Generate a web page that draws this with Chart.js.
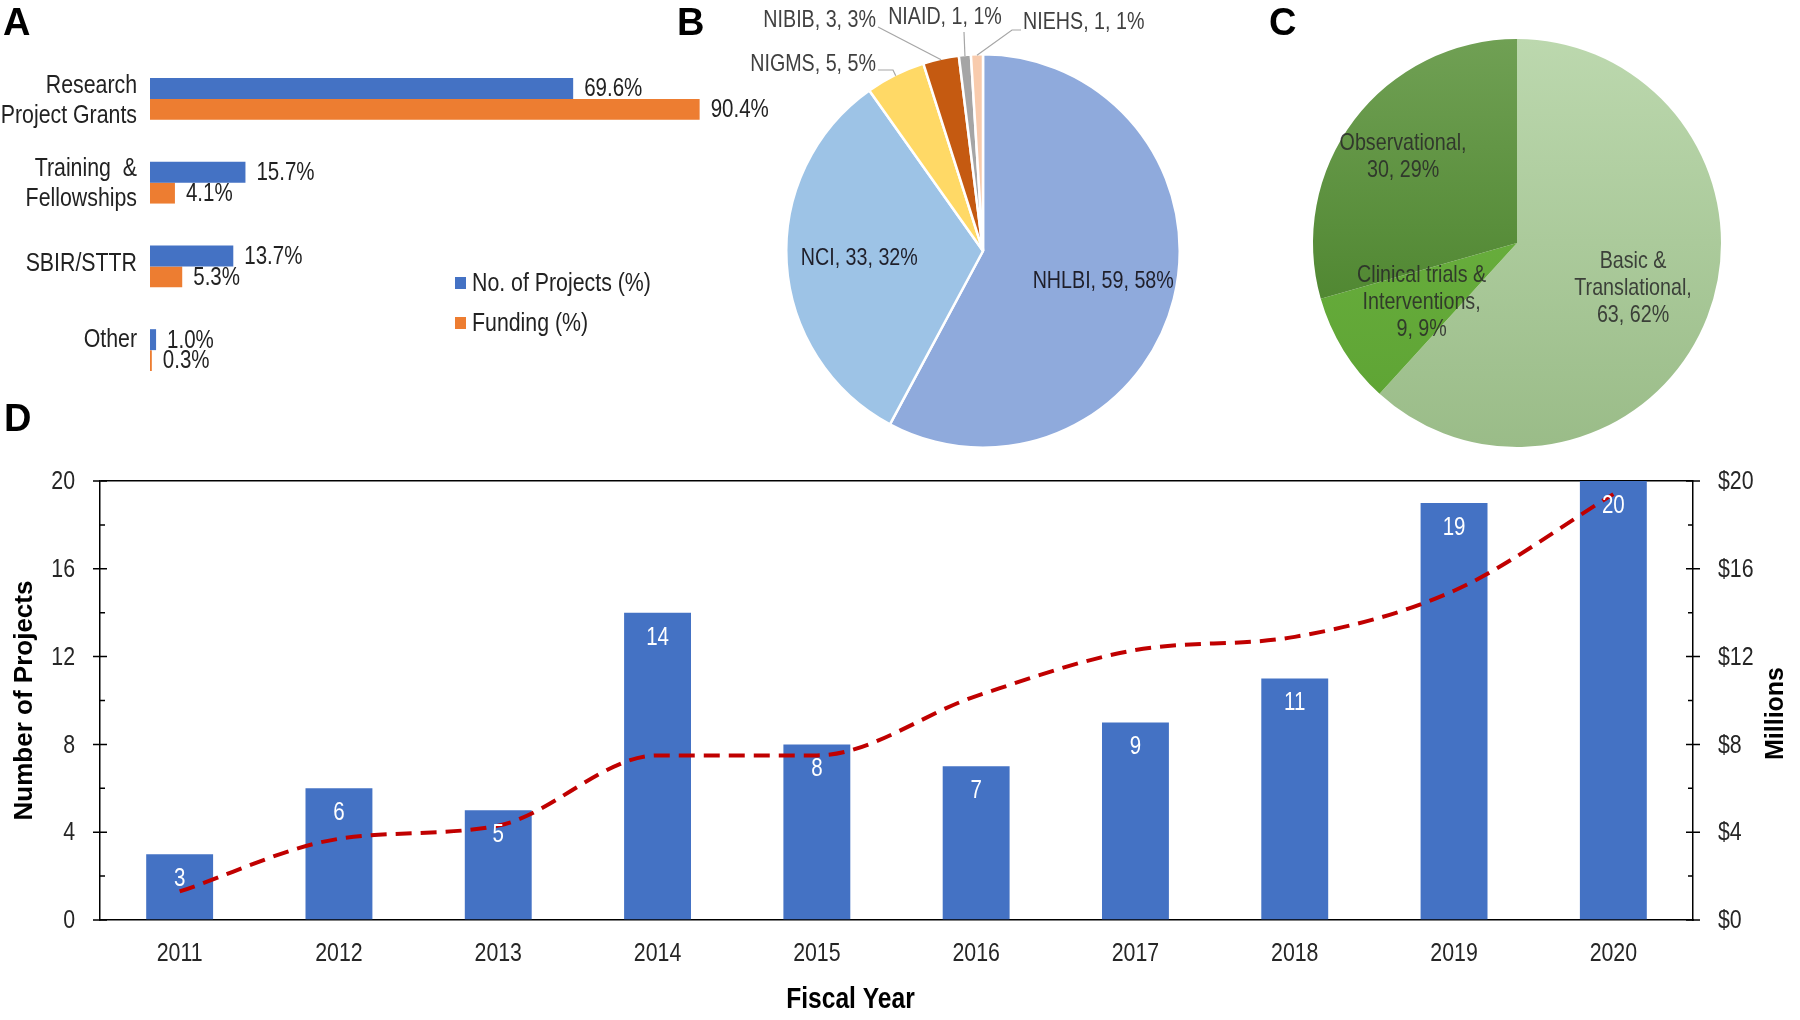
<!DOCTYPE html>
<html><head><meta charset="utf-8">
<script src="https://cdn.jsdelivr.net/npm/chart.js@4.4.1/dist/chart.umd.min.js"></script>
<style>
html,body{margin:0;padding:0;background:#fff;}
body{width:1800px;height:1020px;position:relative;overflow:hidden;}
.panel{position:absolute;}
.letter{position:absolute;font:bold 38px 'Liberation Sans',Arial,sans-serif;line-height:1;color:#000;}
canvas{display:block;}
</style></head><body>
<canvas id="ca" class="panel" width="800" height="420" style="left:0;top:0"></canvas>
<canvas id="cb" class="panel" width="560" height="460" style="left:700px;top:0"></canvas>
<canvas id="cc" class="panel" width="540" height="460" style="left:1260px;top:0"></canvas>
<canvas id="cd" class="panel" width="1800" height="580" style="left:0;top:440px"></canvas>
<div class="letter" style="left:3px;top:3px">A</div>
<div class="letter" style="left:677px;top:3px">B</div>
<div class="letter" style="left:1269px;top:3px">C</div>
<div class="letter" style="left:4px;top:399px">D</div>
<script>
// ---------- DATA ----------
const grantTypes = [['Research', 'Project Grants'], ['Training  &', 'Fellowships'], ['SBIR/STTR'], ['Other']];
const projectsPct = [69.6, 15.7, 13.7, 1.0];
const fundingPct = [90.4, 4.1, 5.3, 0.3];
const seriesNamesA = ['No. of Projects (%)', 'Funding (%)'];

const institutes = ['NHLBI', 'NCI', 'NIGMS', 'NIBIB', 'NIAID', 'NIEHS'];
const instituteProjects = [59, 33, 5, 3, 1, 1];

const researchTypes = [['Basic &', 'Translational,'], ['Clinical trials &', 'Interventions,'], ['Observational,']];
const researchProjects = [63, 9, 30];

const fiscalYears = ['2011', '2012', '2013', '2014', '2015', '2016', '2017', '2018', '2019', '2020'];
const projectsPerYear = [3, 6, 5, 14, 8, 7, 9, 11, 19, 20];
const fundingMillions = [1.3, 3.7, 4.3, 7.5, 7.5, 10.2, 12.3, 12.9, 15.0, 19.4];

// ---------- STYLE ----------
const WIDE = "'Liberation Sans', Arial, sans-serif";
const SQ = 0.82; // horizontal squeeze to imitate a narrow face
Chart.defaults.font.family = WIDE;
Chart.defaults.color = '#222';
const BLUE = '#4472C4', ORANGE = '#ED7D31';

function drawText(ctx, text, x, y, o = {}) {
  const size = o.size || 25, weight = o.weight || 'normal';
  ctx.save();
  ctx.font = `${weight} ${size}px ${WIDE}`;
  ctx.fillStyle = o.color || '#222';
  ctx.textAlign = o.align || 'left';
  ctx.textBaseline = 'middle';
  ctx.translate(x, y);
  if (o.rotate) ctx.rotate(o.rotate);
  ctx.scale(o.squeeze === undefined ? SQ : o.squeeze, 1);
  ctx.fillText(text, 0, 0);
  ctx.restore();
}

// ---------- PANEL A ----------
const panelAText = {
  id: 'panelAText',
  afterDraw(chart, args, opts) {
    const ctx = chart.ctx, ca = chart.chartArea, ys = chart.scales.y;
    // category labels
    chart.data.labels.forEach((lab, i) => {
      const lines = Array.isArray(lab) ? lab : [lab];
      const cy = ys.getPixelForTick(i) + (opts.labelShift[i] || 0);
      lines.forEach((ln, k) => drawText(ctx, ln, ca.left - 13, cy + (k - (lines.length - 1) / 2) * 30 + 1, { size: 26, align: 'right' }));
    });
    // value labels
    chart.data.datasets.forEach((ds, i) => {
      chart.getDatasetMeta(i).data.forEach((bar, j) => {
        drawText(ctx, ds.data[j].toFixed(1) + '%', bar.x + 11, bar.y + 1, { size: 25 });
      });
    });
    // legend
    chart.data.datasets.forEach((ds, i) => {
      const y = 283 + i * 40;
      ctx.fillStyle = ds.backgroundColor; ctx.fillRect(455, y - 6, 11, 12);
      drawText(ctx, ds.label, 472, y + 1, { size: 26 });
    });
  }
};
new Chart(document.getElementById('ca'), {
  type: 'bar',
  data: {
    labels: grantTypes,
    datasets: [
      { label: seriesNamesA[0], data: projectsPct, backgroundColor: BLUE, categoryPercentage: 0.5, barPercentage: 1 },
      { label: seriesNamesA[1], data: fundingPct, backgroundColor: ORANGE, categoryPercentage: 0.5, barPercentage: 1 }
    ]
  },
  options: {
    indexAxis: 'y', responsive: false, animation: false, devicePixelRatio: 1,
    layout: { padding: { top: 57, bottom: 28, right: 42, left: 0 } },
    scales: {
      x: { display: false, min: 0, max: 100 },
      y: {
        grid: { display: false }, border: { display: false },
        ticks: { display: false },
        afterFit(s) { s.width = 150; }
      }
    },
    plugins: { legend: { display: false }, tooltip: { enabled: false }, panelAText: { labelShift: [1, 0, -4, -11] } }
  },
  plugins: [panelAText]
});

// ---------- PANEL B ----------
const pieLabelsB = {
  id: 'pieLabelsB',
  afterDraw(chart, args, opts) {
    const ctx = chart.ctx, meta = chart.getDatasetMeta(0), ds = chart.data.datasets[0];
    const total = ds.data.reduce((a, b) => a + b, 0);
    meta.data.forEach((arc, i) => {
      const p = arc.getProps(['x', 'y', 'startAngle', 'endAngle', 'outerRadius'], true);
      const mid = (p.startAngle + p.endAngle) / 2;
      const text = `${chart.data.labels[i]}, ${ds.data[i]}, ${Math.round(ds.data[i] / total * 100)}%`;
      const o = opts.outside[i];
      if (!o) {
        const r = p.outerRadius * opts.insideRadius;
        drawText(ctx, text, p.x + Math.cos(mid) * r, p.y + Math.sin(mid) * r, { size: 24, align: 'center', color: '#1f1f2a' });
      } else {
        ctx.save();
        ctx.strokeStyle = '#A6A6A6'; ctx.lineWidth = 1.2;
        ctx.beginPath();
        ctx.moveTo(p.x + Math.cos(mid) * (p.outerRadius - 1), p.y + Math.sin(mid) * (p.outerRadius - 1));
        o.path.forEach(q => ctx.lineTo(p.x + q[0], p.y + q[1]));
        ctx.stroke();
        ctx.restore();
        drawText(ctx, text, p.x + o.tx, p.y + o.ty, { size: 24, align: o.align, color: '#404040' });
      }
    });
  }
};
new Chart(document.getElementById('cb'), {
  type: 'pie',
  data: {
    labels: institutes,
    datasets: [{
      data: instituteProjects,
      backgroundColor: ['#8FAADC', '#9DC3E6', '#FFD966', '#C55A11', '#A5A5A5', '#F8CBAD'],
      borderColor: '#fff', borderWidth: 2.5
    }]
  },
  options: {
    responsive: false, animation: false, devicePixelRatio: 1,
    layout: { padding: { left: 85, top: 53, right: 79, bottom: 11 } },
    plugins: {
      legend: { display: false }, tooltip: { enabled: false },
      pieLabelsB: {
        insideRadius: 0.63,
        outside: [null, null,
          { tx: -107, ty: -187, align: 'right', path: [[-90, -181], [-105, -181]] },
          { tx: -107, ty: -231, align: 'right', path: [[-105, -224]] },
          { tx: -38, ty: -234, align: 'center', path: [[-19, -219]] },
          { tx: 40, ty: -229, align: 'left', path: [[29, -221], [38, -221]] }
        ]
      }
    }
  },
  plugins: [pieLabelsB]
});

// ---------- PANEL C ----------
const greenGradients = [['#BCD8AE', '#9ABC88'], ['#72B746', '#5CA232'], ['#70A054', '#3F7A1F']];
const pieLabelsC = {
  id: 'pieLabelsC',
  afterDraw(chart, args, opts) {
    const ctx = chart.ctx, meta = chart.getDatasetMeta(0), ds = chart.data.datasets[0];
    const total = ds.data.reduce((a, b) => a + b, 0);
    meta.data.forEach((arc, i) => {
      const p = arc.getProps(['x', 'y', 'startAngle', 'endAngle', 'outerRadius'], true);
      const mid = (p.startAngle + p.endAngle) / 2;
      const r = p.outerRadius * opts.radii[i];
      const lines = [...chart.data.labels[i], `${ds.data[i]}, ${Math.round(ds.data[i] / total * 100)}%`];
      const cx = p.x + Math.cos(mid) * r, cy = p.y + Math.sin(mid) * r;
      lines.forEach((ln, k) => drawText(ctx, ln, cx, cy + (k - (lines.length - 1) / 2) * 27, { size: 24, align: 'center', color: 'rgba(40,40,40,0.85)' }));
    });
  }
};
new Chart(document.getElementById('cc'), {
  type: 'pie',
  data: {
    labels: researchTypes,
    datasets: [{
      data: researchProjects,
      backgroundColor(ctx) {
        const ch = ctx.chart, a = ch.chartArea;
        if (!a) return greenGradients[ctx.dataIndex][0];
        const g = ch.ctx.createLinearGradient(0, a.top, 0, a.bottom);
        g.addColorStop(0, greenGradients[ctx.dataIndex][0]);
        g.addColorStop(1, greenGradients[ctx.dataIndex][1]);
        return g;
      },
      borderWidth: 0
    }]
  },
  options: {
    responsive: false, animation: false, devicePixelRatio: 1,
    layout: { padding: { left: 53, top: 39, right: 79, bottom: 13 } },
    plugins: {
      legend: { display: false }, tooltip: { enabled: false },
      pieLabelsC: { radii: [0.61, 0.55, 0.7] }
    }
  },
  plugins: [pieLabelsC]
});

// ---------- PANEL D ----------
const panelDText = {
  id: 'panelDText',
  afterDraw(chart, args, opts) {
    const ctx = chart.ctx, ca = chart.chartArea;
    // bar values inside bar tops
    const idx = chart.data.datasets.findIndex(d => d.type === 'bar');
    chart.getDatasetMeta(idx).data.forEach((b, j) =>
      drawText(ctx, String(chart.data.datasets[idx].data[j]), b.x, b.y + 25, { size: 25, align: 'center', color: '#fff' }));
    // x tick labels
    const xs = chart.scales.x;
    chart.data.labels.forEach((lab, i) => drawText(ctx, lab, xs.getPixelForTick(i), ca.bottom + 34, { size: 26, align: 'center', color: '#262626' }));
    drawText(ctx, opts.xTitle, (ca.left + ca.right) / 2 - 46, ca.bottom + 80, { size: 30, weight: 'bold', align: 'center', color: '#000' });
    // y ticks (marks + labels)
    ctx.save();
    ctx.strokeStyle = '#000'; ctx.lineWidth = 1.5;
    ctx.beginPath();
    ['y', 'y1'].forEach(id => {
      const s = chart.scales[id];
      const left = id === 'y';
      const ax = left ? ca.left : ca.right;
      s.ticks.forEach(t => {
        const v = t.value, py = s.getPixelForValue(v);
        if (v % 4 === 0) {
          ctx.moveTo(ax - 7, py); ctx.lineTo(ax + 7, py);
          drawText(ctx, (left ? '' : '$') + v, left ? ax - 25 : ax + 25, py + 1, { size: 26, align: left ? 'right' : 'left', color: '#262626' });
        } else {
          ctx.moveTo(ax, py); ctx.lineTo(ax + (left ? 5 : -5), py);
        }
      });
    });
    ctx.stroke();
    ctx.restore();
    drawText(ctx, opts.rightTitle, chart.width - 24, (ca.top + ca.bottom) / 2 + 13, { size: 25, weight: 'bold', align: 'center', color: '#000', rotate: -Math.PI / 2, squeeze: 1 });
  }
};
new Chart(document.getElementById('cd'), {
  type: 'bar',
  data: {
    labels: fiscalYears,
    datasets: [
      {
        type: 'line', label: 'Funding (Millions)', data: fundingMillions, yAxisID: 'y1',
        borderColor: '#C00000', borderWidth: 4, borderDash: [16, 9], pointRadius: 0,
        cubicInterpolationMode: 'monotone', fill: false, order: 0
      },
      {
        type: 'bar', label: 'Number of Projects', data: projectsPerYear, yAxisID: 'y',
        backgroundColor: BLUE, barPercentage: 0.42, categoryPercentage: 1, order: 1
      }
    ]
  },
  options: {
    responsive: false, animation: false, devicePixelRatio: 1,
    layout: { padding: { top: 41, left: 0, right: 0, bottom: 0 } },
    scales: {
      x: {
        grid: { display: false }, border: { display: true, color: '#000', width: 1.5 },
        ticks: { display: false },
        afterFit(s) { s.height = 100; }
      },
      y: {
        position: 'left', min: 0, max: 20,
        ticks: { stepSize: 2, display: false },
        grid: { drawTicks: false, drawOnChartArea: true, lineWidth: 1.5, color: c => (c.tick && c.tick.value === 20 ? '#000' : 'rgba(0,0,0,0)') },
        border: { display: true, color: '#000', width: 1.5 },
        title: { display: true, text: 'Number of Projects', color: '#000', font: { family: WIDE, size: 26, weight: 'bold' }, padding: { top: 9 } },
        afterFit(s) { s.width = 100; }
      },
      y1: {
        position: 'right', min: 0, max: 20,
        ticks: { stepSize: 2, display: false },
        grid: { drawTicks: false, drawOnChartArea: false },
        border: { display: true, color: '#000', width: 1.5 },
        afterFit(s) { s.width = 107; }
      }
    },
    plugins: { legend: { display: false }, tooltip: { enabled: false }, panelDText: { rightTitle: 'Millions', xTitle: 'Fiscal Year' } }
  },
  plugins: [panelDText]
});
</script>
</body></html>
